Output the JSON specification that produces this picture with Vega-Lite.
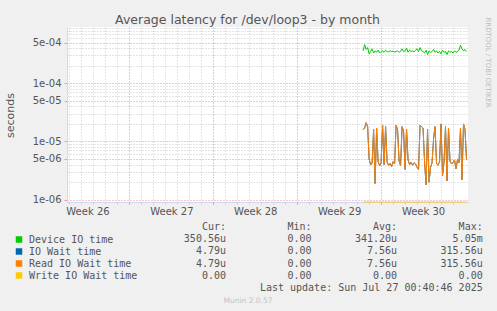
{
  "$schema": "https://vega.github.io/schema/vega-lite/v6.json",
  "width": 401,
  "height": 175,
  "autosize": {"type": "none"},
  "padding": {"left": 67, "top": 27, "right": 29, "bottom": 109},
  "background": "#F0F0F0",
  "view": {"fill": "#FFFFFF", "stroke": null},
  "config": {
    "font": "DejaVu Sans",
    "axis": {"labelFont": "DejaVu Sans", "labelFontSize": 10, "labelColor": "#555555", "titleFont": "DejaVu Sans", "titleFontWeight": "normal", "titleColor": "#555555"}
  },
  "title": {"text": "Average latency for /dev/loop3 - by month", "font": "DejaVu Sans", "fontSize": 12.5, "fontWeight": "normal", "color": "#555555", "anchor": "middle", "frame": "group", "dx": -20, "dy": 14},
  "datasets": {
    "series": [
      {"t": "2025-07-19T12:00", "dev": 3.6e-4, "io": 1.6e-5, "rd": 1.6e-5, "wr": 0},
      {"t": "2025-07-19T15:00", "dev": 4.6e-4, "io": 1.7e-5, "rd": 1.7e-5, "wr": 0},
      {"t": "2025-07-19T18:00", "dev": 3.8e-4, "io": 2.1e-5, "rd": 2.1e-5, "wr": 0},
      {"t": "2025-07-19T21:00", "dev": 4.1e-4, "io": 1.8e-5, "rd": 1.8e-5, "wr": 0},
      {"t": "2025-07-20T00:00", "dev": 3.2e-4, "io": 5.0e-6, "rd": 5.0e-6, "wr": 0},
      {"t": "2025-07-20T03:00", "dev": 3.5e-4, "io": 4.0e-6, "rd": 4.0e-6, "wr": 0},
      {"t": "2025-07-20T06:00", "dev": 3.9e-4, "io": 4.2e-6, "rd": 4.2e-6, "wr": 0},
      {"t": "2025-07-20T09:00", "dev": 3.3e-4, "io": 1.6e-5, "rd": 1.6e-5, "wr": 0},
      {"t": "2025-07-20T12:00", "dev": 3.6e-4, "io": 1.9e-6, "rd": 1.9e-6, "wr": 0},
      {"t": "2025-07-20T15:00", "dev": 3.4e-4, "io": 1.7e-5, "rd": 1.7e-5, "wr": 0},
      {"t": "2025-07-20T18:00", "dev": 3.7e-4, "io": 4.5e-6, "rd": 4.5e-6, "wr": 0},
      {"t": "2025-07-20T21:00", "dev": 3.3e-4, "io": 3.8e-6, "rd": 3.8e-6, "wr": 0},
      {"t": "2025-07-21T00:00", "dev": 3.5e-4, "io": 4.3e-6, "rd": 4.3e-6, "wr": 0},
      {"t": "2025-07-21T03:00", "dev": 3.6e-4, "io": 1.9e-5, "rd": 1.9e-5, "wr": 0},
      {"t": "2025-07-21T06:00", "dev": 3.4e-4, "io": 4.0e-6, "rd": 4.0e-6, "wr": 0},
      {"t": "2025-07-21T09:00", "dev": 3.7e-4, "io": 1.8e-5, "rd": 1.8e-5, "wr": 0},
      {"t": "2025-07-21T12:00", "dev": 3.5e-4, "io": 4.4e-6, "rd": 4.4e-6, "wr": 0},
      {"t": "2025-07-21T15:00", "dev": 3.45e-4, "io": 3.9e-6, "rd": 3.9e-6, "wr": 0},
      {"t": "2025-07-21T18:00", "dev": 3.6e-4, "io": 4.2e-6, "rd": 4.2e-6, "wr": 0},
      {"t": "2025-07-21T21:00", "dev": 3.5e-4, "io": 3.7e-6, "rd": 3.7e-6, "wr": 0},
      {"t": "2025-07-22T00:00", "dev": 3.55e-4, "io": 4.5e-6, "rd": 4.5e-6, "wr": 0},
      {"t": "2025-07-22T03:00", "dev": 3.45e-4, "io": 4.1e-6, "rd": 4.1e-6, "wr": 0},
      {"t": "2025-07-22T06:00", "dev": 3.5e-4, "io": 1.9e-5, "rd": 1.9e-5, "wr": 0},
      {"t": "2025-07-22T09:00", "dev": 3.6e-4, "io": 1.6e-5, "rd": 1.6e-5, "wr": 0},
      {"t": "2025-07-22T12:00", "dev": 3.4e-4, "io": 4.6e-6, "rd": 4.6e-6, "wr": 0},
      {"t": "2025-07-22T15:00", "dev": 3.5e-4, "io": 3.8e-6, "rd": 3.8e-6, "wr": 0},
      {"t": "2025-07-22T18:00", "dev": 3.9e-4, "io": 1.8e-5, "rd": 1.8e-5, "wr": 0},
      {"t": "2025-07-22T21:00", "dev": 3.5e-4, "io": 1.5e-5, "rd": 1.5e-5, "wr": 0},
      {"t": "2025-07-23T00:00", "dev": 3.6e-4, "io": 3.3e-6, "rd": 3.3e-6, "wr": 0},
      {"t": "2025-07-23T03:00", "dev": 4.0e-4, "io": 1.6e-5, "rd": 1.6e-5, "wr": 0},
      {"t": "2025-07-23T06:00", "dev": 3.4e-4, "io": 4.8e-6, "rd": 4.8e-6, "wr": 0},
      {"t": "2025-07-23T09:00", "dev": 3.7e-4, "io": 4.0e-6, "rd": 4.0e-6, "wr": 0},
      {"t": "2025-07-23T12:00", "dev": 3.5e-4, "io": 4.4e-6, "rd": 4.4e-6, "wr": 0},
      {"t": "2025-07-23T15:00", "dev": 3.6e-4, "io": 3.9e-6, "rd": 3.9e-6, "wr": 0},
      {"t": "2025-07-23T18:00", "dev": 3.45e-4, "io": 4.3e-6, "rd": 4.3e-6, "wr": 0},
      {"t": "2025-07-23T21:00", "dev": 3.7e-4, "io": 4.1e-6, "rd": 4.1e-6, "wr": 0},
      {"t": "2025-07-24T00:00", "dev": 3.9e-4, "io": 3.6e-6, "rd": 3.6e-6, "wr": 0},
      {"t": "2025-07-24T03:00", "dev": 3.5e-4, "io": 3.3e-6, "rd": 3.3e-6, "wr": 0},
      {"t": "2025-07-24T06:00", "dev": 4.1e-4, "io": 1.9e-5, "rd": 1.9e-5, "wr": 0},
      {"t": "2025-07-24T09:00", "dev": 3.6e-4, "io": 1.8e-5, "rd": 1.8e-5, "wr": 0},
      {"t": "2025-07-24T12:00", "dev": 3.5e-4, "io": 1.7e-5, "rd": 1.7e-5, "wr": 0},
      {"t": "2025-07-24T15:00", "dev": 3.3e-4, "io": 4.5e-6, "rd": 4.5e-6, "wr": 0},
      {"t": "2025-07-24T18:00", "dev": 3.7e-4, "io": 1.8e-6, "rd": 1.8e-6, "wr": 0},
      {"t": "2025-07-24T21:00", "dev": 3.1e-4, "io": 1.6e-5, "rd": 1.6e-5, "wr": 0},
      {"t": "2025-07-25T00:00", "dev": 3.6e-4, "io": 2.0e-6, "rd": 2.0e-6, "wr": 0},
      {"t": "2025-07-25T03:00", "dev": 3.4e-4, "io": 3.6e-6, "rd": 3.6e-6, "wr": 0},
      {"t": "2025-07-25T06:00", "dev": 3.5e-4, "io": 4.3e-6, "rd": 4.3e-6, "wr": 0},
      {"t": "2025-07-25T09:00", "dev": 3.8e-4, "io": 1.1e-5, "rd": 1.1e-5, "wr": 0},
      {"t": "2025-07-25T12:00", "dev": 3.4e-4, "io": 1.8e-5, "rd": 1.8e-5, "wr": 0},
      {"t": "2025-07-25T15:00", "dev": 3.6e-4, "io": 4.2e-6, "rd": 4.2e-6, "wr": 0},
      {"t": "2025-07-25T18:00", "dev": 3.3e-4, "io": 3.9e-6, "rd": 3.9e-6, "wr": 0},
      {"t": "2025-07-25T21:00", "dev": 3.5e-4, "io": 4.5e-6, "rd": 4.5e-6, "wr": 0},
      {"t": "2025-07-26T00:00", "dev": 3.2e-4, "io": 2.0e-5, "rd": 2.0e-5, "wr": 0},
      {"t": "2025-07-26T03:00", "dev": 3.7e-4, "io": 2.6e-6, "rd": 2.6e-6, "wr": 0},
      {"t": "2025-07-26T06:00", "dev": 3.4e-4, "io": 4.4e-6, "rd": 4.4e-6, "wr": 0},
      {"t": "2025-07-26T09:00", "dev": 3.5e-4, "io": 1.8e-5, "rd": 1.8e-5, "wr": 0},
      {"t": "2025-07-26T12:00", "dev": 3.1e-4, "io": 2.1e-6, "rd": 2.1e-6, "wr": 0},
      {"t": "2025-07-26T15:00", "dev": 3.6e-4, "io": 1.7e-5, "rd": 1.7e-5, "wr": 0},
      {"t": "2025-07-26T18:00", "dev": 3.4e-4, "io": 4.6e-6, "rd": 4.6e-6, "wr": 0},
      {"t": "2025-07-26T21:00", "dev": 3.5e-4, "io": 4.1e-6, "rd": 4.1e-6, "wr": 0},
      {"t": "2025-07-27T00:00", "dev": 3.3e-4, "io": 4.4e-6, "rd": 4.4e-6, "wr": 0},
      {"t": "2025-07-27T03:00", "dev": 3.6e-4, "io": 4.8e-6, "rd": 4.8e-6, "wr": 0},
      {"t": "2025-07-27T06:00", "dev": 3.4e-4, "io": 3.4e-6, "rd": 3.4e-6, "wr": 0},
      {"t": "2025-07-27T09:00", "dev": 3.5e-4, "io": 4.9e-6, "rd": 4.9e-6, "wr": 0},
      {"t": "2025-07-27T12:00", "dev": 3.7e-4, "io": 4.3e-6, "rd": 4.3e-6, "wr": 0},
      {"t": "2025-07-27T15:00", "dev": 4.5e-4, "io": 1.7e-5, "rd": 1.7e-5, "wr": 0},
      {"t": "2025-07-27T18:00", "dev": 3.9e-4, "io": 2.2e-6, "rd": 2.2e-6, "wr": 0},
      {"t": "2025-07-27T21:00", "dev": 3.6e-4, "io": 2.0e-5, "rd": 2.0e-5, "wr": 0},
      {"t": "2025-07-28T00:00", "dev": 3.8e-4, "io": 1.6e-5, "rd": 1.6e-5, "wr": 0},
      {"t": "2025-07-28T03:00", "dev": 3.5e-4, "io": 4.79e-6, "rd": 4.79e-6, "wr": 0}
    ],
    "table": [
      {"r": "hdr", "c": "Cur", "s": "Cur:\u00a0\u00a0"},
      {"r": "hdr", "c": "Min", "s": "Min:\u00a0\u00a0"},
      {"r": "hdr", "c": "Avg", "s": "Avg:\u00a0\u00a0"},
      {"r": "hdr", "c": "Max", "s": "Max:\u00a0\u00a0"},
      {"r": "Device IO time", "c": "Cur", "s": "350.56u"},
      {"r": "Device IO time", "c": "Min", "s": "0.00\u00a0"},
      {"r": "Device IO time", "c": "Avg", "s": "341.20u"},
      {"r": "Device IO time", "c": "Max", "s": "5.05m"},
      {"r": "IO Wait time", "c": "Cur", "s": "4.79u"},
      {"r": "IO Wait time", "c": "Min", "s": "0.00\u00a0"},
      {"r": "IO Wait time", "c": "Avg", "s": "7.56u"},
      {"r": "IO Wait time", "c": "Max", "s": "315.56u"},
      {"r": "Read IO Wait time", "c": "Cur", "s": "4.79u"},
      {"r": "Read IO Wait time", "c": "Min", "s": "0.00\u00a0"},
      {"r": "Read IO Wait time", "c": "Avg", "s": "7.56u"},
      {"r": "Read IO Wait time", "c": "Max", "s": "315.56u"},
      {"r": "Write IO Wait time", "c": "Cur", "s": "0.00\u00a0"},
      {"r": "Write IO Wait time", "c": "Min", "s": "0.00\u00a0"},
      {"r": "Write IO Wait time", "c": "Avg", "s": "0.00\u00a0"},
      {"r": "Write IO Wait time", "c": "Max", "s": "0.00\u00a0"},
      {"r": "upd", "c": "Max", "s": "Last update: Sun Jul 27 00:40:46 2025"}
    ]
  },
  "layer": [
    {
      "data": {"name": "series"},
      "layer": [
        {
          "mark": {"type": "line", "strokeWidth": 1},
          "encoding": {
            "x": {"field": "t", "type": "temporal",
              "scale": {"domain": [{"year": 2025, "month": 6, "date": 24, "hours": 19}, {"year": 2025, "month": 7, "date": 28, "hours": 6}], "nice": false},
              "axis": {"orient": "bottom", "values": [
                {"year": 2025, "month": 6, "date": 25}, {"year": 2025, "month": 6, "date": 26}, {"year": 2025, "month": 6, "date": 27}, {"year": 2025, "month": 6, "date": 28}, {"year": 2025, "month": 6, "date": 29}, {"year": 2025, "month": 6, "date": 30},
                {"year": 2025, "month": 7, "date": 1}, {"year": 2025, "month": 7, "date": 2}, {"year": 2025, "month": 7, "date": 3}, {"year": 2025, "month": 7, "date": 4}, {"year": 2025, "month": 7, "date": 5}, {"year": 2025, "month": 7, "date": 6}, {"year": 2025, "month": 7, "date": 7},
                {"year": 2025, "month": 7, "date": 8}, {"year": 2025, "month": 7, "date": 9}, {"year": 2025, "month": 7, "date": 10}, {"year": 2025, "month": 7, "date": 11}, {"year": 2025, "month": 7, "date": 12}, {"year": 2025, "month": 7, "date": 13}, {"year": 2025, "month": 7, "date": 14},
                {"year": 2025, "month": 7, "date": 15}, {"year": 2025, "month": 7, "date": 16}, {"year": 2025, "month": 7, "date": 17}, {"year": 2025, "month": 7, "date": 18}, {"year": 2025, "month": 7, "date": 19}, {"year": 2025, "month": 7, "date": 20}, {"year": 2025, "month": 7, "date": 21},
                {"year": 2025, "month": 7, "date": 22}, {"year": 2025, "month": 7, "date": 23}, {"year": 2025, "month": 7, "date": 24}, {"year": 2025, "month": 7, "date": 25}, {"year": 2025, "month": 7, "date": 26}, {"year": 2025, "month": 7, "date": 27}
              ], "grid": true,
              "gridColor": {"condition": {"test": "day(datum.value) === 1", "value": "#E88888"}, "value": "#C8C8C8"},
              "tickColor": {"condition": {"test": "day(datum.value) === 1", "value": "#E88888"}, "value": "#D0D0D0"},
              "gridOpacity": 1, "gridDash": [1, 2], "labels": false, "ticks": true, "tickSize": 2, "domain": false, "title": null}},
            "y": {"field": "dev", "type": "quantitative",
              "scale": {"type": "log", "domain": [9.13e-7, 9.24e-4], "nice": false, "zero": false, "clamp": true},
              "axis": {"orient": "left", "values": [2e-6, 3e-6, 4e-6, 6e-6, 7e-6, 8e-6, 9e-6, 2e-5, 3e-5, 4e-5, 6e-5, 7e-5, 8e-5, 9e-5, 2e-4, 3e-4, 4e-4, 6e-4, 7e-4, 8e-4, 9e-4], "grid": true, "gridColor": "#C8C8C8", "gridOpacity": 1, "gridDash": [1, 2], "labels": false, "ticks": false, "domain": false, "title": null}},
            "color": {"datum": "Device IO time", "type": "nominal",
              "scale": {"domain": ["Device IO time", "IO Wait time", "Read IO Wait time", "Write IO Wait time"], "range": ["#00CC00", "#0066B3", "#FF8000", "#FFCC00"]},
              "legend": {"orient": "none", "legendX": -53, "legendY": 207.5, "title": null, "direction": "vertical", "symbolType": "square", "symbolSize": 42, "symbolStrokeWidth": 0, "labelFont": "DejaVu Sans Mono", "labelFontSize": 10, "labelColor": "#555555", "labelOffset": 5, "labelLimit": 400, "rowPadding": 2, "padding": 0,
                "encode": {"symbols": {"update": {"fill": {"scale": "color", "field": "value"}, "stroke": {"value": "transparent"}, "opacity": {"value": 1}}}}}}
          }
        },
        {
          "mark": {"type": "line", "strokeWidth": 1},
          "encoding": {
            "x": {"field": "t", "type": "temporal",
              "scale": {"domain": [{"year": 2025, "month": 6, "date": 24, "hours": 19}, {"year": 2025, "month": 7, "date": 28, "hours": 6}], "nice": false},
              "axis": null},
            "y": {"field": "io", "type": "quantitative",
              "scale": {"type": "log", "domain": [9.13e-7, 9.24e-4], "nice": false, "zero": false, "clamp": true},
              "axis": {"orient": "left", "values": [1e-6, 5e-6, 1e-5, 5e-5, 1e-4, 5e-4], "labelExpr": "replace(format(datum.value, '.0e'), 'e-', 'e-0')", "grid": true, "gridColor": "#E89090", "gridOpacity": 1, "gridDash": [1, 2], "ticks": true, "tickSize": 3, "tickColor": "#E8A0A0", "labelPadding": 3, "labelFontSize": 10, "domain": true, "domainColor": "#CFD6F8", "title": "seconds", "titleFontSize": 11, "titleX": -57, "titleY": 88, "titleAngle": -90, "titleAlign": "center", "titleBaseline": "middle"}},
            "color": {"datum": "IO Wait time", "type": "nominal"}
          }
        },
        {
          "mark": {"type": "line", "strokeWidth": 1},
          "encoding": {
            "x": {"field": "t", "type": "temporal",
              "scale": {"domain": [{"year": 2025, "month": 6, "date": 24, "hours": 19}, {"year": 2025, "month": 7, "date": 28, "hours": 6}], "nice": false},
              "axis": {"orient": "bottom", "values": [{"year": 2025, "month": 6, "date": 26, "hours": 12}, {"year": 2025, "month": 7, "date": 3, "hours": 12}, {"year": 2025, "month": 7, "date": 10, "hours": 12}, {"year": 2025, "month": 7, "date": 17, "hours": 12}, {"year": 2025, "month": 7, "date": 24, "hours": 12}], "format": "Week %V", "formatType": "time", "labelFontSize": 10, "labelPadding": 4, "labelOverlap": false, "labelFlush": false, "grid": false, "ticks": false, "domain": true, "domainColor": "#CFD6F8", "title": "Munin 2.0.57", "titleFontSize": 7.5, "titleColor": "#C4C4C4", "titleX": 180.5, "titleY": 98, "titleAlign": "center", "titleBaseline": "middle"}},
            "y": {"field": "rd", "type": "quantitative",
              "scale": {"type": "log", "domain": [9.13e-7, 9.24e-4], "nice": false, "zero": false, "clamp": true},
              "axis": {"orient": "right", "grid": false, "labels": false, "ticks": false, "domain": false, "title": "RRDTOOL / TOBI OETIKER", "titleFontSize": 7, "titleColor": "#BDBDBD", "titleAngle": 90, "titleX": 19, "titleY": 35, "titleAlign": "center", "titleBaseline": "middle"}},
            "color": {"datum": "Read IO Wait time", "type": "nominal"}
          }
        },
        {
          "mark": {"type": "line", "strokeWidth": 1, "invalid": "show"},
          "encoding": {
            "x": {"field": "t", "type": "temporal",
              "scale": {"domain": [{"year": 2025, "month": 6, "date": 24, "hours": 19}, {"year": 2025, "month": 7, "date": 28, "hours": 6}], "nice": false},
              "axis": null},
            "y": {"field": "wr", "type": "quantitative",
              "scale": {"type": "log", "domain": [9.13e-7, 9.24e-4], "nice": false, "zero": false, "clamp": true},
              "axis": null},
            "color": {"datum": "Write IO Wait time", "type": "nominal"}
          }
        }
      ],
      "resolve": {"axis": {"x": "independent", "y": "independent"}}
    },
    {
      "data": {"name": "table"},
      "mark": {"type": "text", "font": "DejaVu Sans Mono", "fontSize": 10, "align": "right", "baseline": "middle", "color": "#555555"},
      "encoding": {
        "x": {"field": "c", "type": "nominal", "scale": {"type": "point", "domain": ["Cur", "Min", "Avg", "Max"], "range": [159, 415.7], "padding": 0}, "axis": null},
        "y": {"field": "r", "type": "nominal", "scale": {"type": "point", "domain": ["hdr", "Device IO time", "IO Wait time", "Read IO Wait time", "Write IO Wait time", "upd"], "range": [200.3, 260.7], "padding": 0}, "axis": null},
        "text": {"field": "s"}
      }
    }
  ],
  "resolve": {"scale": {"x": "independent", "y": "independent"}}
}
